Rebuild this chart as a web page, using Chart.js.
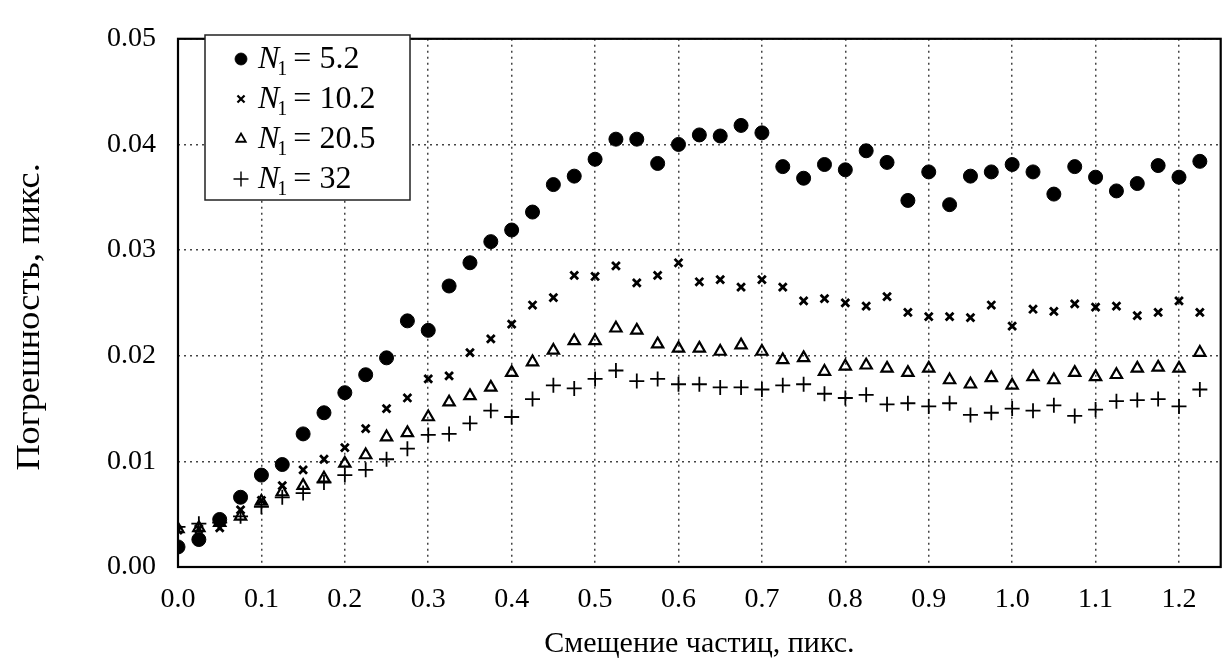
<!DOCTYPE html>
<html>
<head>
<meta charset="utf-8">
<script src="https://cdn.jsdelivr.net/npm/chart.js@4"></script>
<style>
  html, body { margin: 0; padding: 0; background: #fff; }
  #wrap { width: 1230px; height: 666px; }
</style>
</head>
<body>
<div id="wrap"><canvas id="errorChart" width="1230" height="666"></canvas></div>
<script>
// Смещение частиц (пикс.)
const xValues = [0.000, 0.025, 0.050, 0.075, 0.100, 0.125, 0.150, 0.175, 0.200, 0.225,
                 0.250, 0.275, 0.300, 0.325, 0.350, 0.375, 0.400, 0.425, 0.450, 0.475,
                 0.500, 0.525, 0.550, 0.575, 0.600, 0.625, 0.650, 0.675, 0.700, 0.725,
                 0.750, 0.775, 0.800, 0.825, 0.850, 0.875, 0.900, 0.925, 0.950, 0.975,
                 1.000, 1.025, 1.050, 1.075, 1.100, 1.125, 1.150, 1.175, 1.200, 1.225];

// Погрешность для разных N1
const errN5_2 = [0.0019, 0.0026, 0.0045, 0.0066, 0.0087, 0.0097, 0.0126, 0.0146, 0.0165, 0.0182,
                 0.0198, 0.0233, 0.0224, 0.0266, 0.0288, 0.0308, 0.0319, 0.0336, 0.0362, 0.0370,
                 0.0386, 0.0405, 0.0405, 0.0382, 0.0400, 0.0409, 0.0408, 0.0418, 0.0411, 0.0379,
                 0.0368, 0.0381, 0.0376, 0.0394, 0.0383, 0.0347, 0.0374, 0.0343, 0.0370, 0.0374,
                 0.0381, 0.0374, 0.0353, 0.0379, 0.0369, 0.0356, 0.0363, 0.0380, 0.0369, 0.0384];
const errN10_2 = [0.0035, 0.0036, 0.0037, 0.0054, 0.0063, 0.0077, 0.0092, 0.0102, 0.0113, 0.0131,
                  0.0150, 0.0160, 0.0178, 0.0181, 0.0203, 0.0216, 0.0230, 0.0248, 0.0255, 0.0276,
                  0.0275, 0.0285, 0.0269, 0.0276, 0.0288, 0.0270, 0.0272, 0.0265, 0.0272, 0.0265,
                  0.0252, 0.0254, 0.0250, 0.0247, 0.0256, 0.0241, 0.0237, 0.0237, 0.0236, 0.0248,
                  0.0228, 0.0244, 0.0242, 0.0249, 0.0246, 0.0247, 0.0238, 0.0241, 0.0252, 0.0241];
const errN20_5 = [0.0036, 0.0037, 0.0042, 0.0048, 0.0062, 0.0071, 0.0077, 0.0084, 0.0098, 0.0106,
                  0.0123, 0.0127, 0.0142, 0.0156, 0.0162, 0.0170, 0.0184, 0.0194, 0.0205, 0.0214,
                  0.0214, 0.0226, 0.0224, 0.0211, 0.0207, 0.0207, 0.0204, 0.0210, 0.0204, 0.0196,
                  0.0198, 0.0185, 0.0190, 0.0191, 0.0188, 0.0184, 0.0188, 0.0177, 0.0173, 0.0179,
                  0.0172, 0.0180, 0.0177, 0.0184, 0.0180, 0.0182, 0.0188, 0.0189, 0.0188, 0.0203];
const errN32 = [0.0038, 0.0041, 0.0042, 0.0048, 0.0057, 0.0066, 0.0070, 0.0080, 0.0087, 0.0092,
                0.0102, 0.0112, 0.0125, 0.0126, 0.0136, 0.0148, 0.0142, 0.0159, 0.0172, 0.0169,
                0.0178, 0.0186, 0.0176, 0.0178, 0.0173, 0.0173, 0.0170, 0.0170, 0.0168, 0.0172,
                0.0173, 0.0164, 0.0160, 0.0163, 0.0154, 0.0155, 0.0152, 0.0155, 0.0144, 0.0146,
                0.0150, 0.0148, 0.0153, 0.0143, 0.0149, 0.0157, 0.0158, 0.0159, 0.0152, 0.0168];

// Подписи серий и делений
const seriesValues = ['5.2', '10.2', '20.5', '32'];
const xTicks = [0.0, 0.1, 0.2, 0.3, 0.4, 0.5, 0.6, 0.7, 0.8, 0.9, 1.0, 1.1, 1.2];
const yTicks = [0.00, 0.01, 0.02, 0.03, 0.04, 0.05];
const yTitle = 'Погрешность, пикс.';

const FONT = '"Liberation Serif", "DejaVu Serif", serif';

function toPoints(arr) {
    return arr.map((y, i) => ({ x: xValues[i], y: y }));
}

// стили маркеров: точка, косой крест, треугольник, плюс
const markers = [
    { style: 'circle',   radius: 7,   border: 1,   fill: '#000', legendRadius: 6 },
    { style: 'crossRot', radius: 5.5, border: 2.8, fill: '#000', legendRadius: 5 },
    { style: 'triangle', radius: 6.5, border: 2.2, fill: 'rgba(0,0,0,0)', legendRadius: 5.5 },
    { style: 'cross',    radius: 7.5, border: 1.8, fill: '#000', legendRadius: 7.5 }
];
const seriesData = [errN5_2, errN10_2, errN20_5, errN32];

const datasets = seriesData.map((arr, k) => ({
    label: 'N1 = ' + seriesValues[k],
    data: toPoints(arr),
    showLine: false,
    pointStyle: markers[k].style,
    pointRadius: markers[k].radius,
    pointHoverRadius: markers[k].radius,
    pointBorderWidth: markers[k].border,
    pointBorderColor: '#000',
    pointBackgroundColor: markers[k].fill
}));

// Рамка вокруг области графика
const frameBorder = {
    id: 'frameBorder',
    afterDatasetsDraw(chart) {
        const { ctx, chartArea: a } = chart;
        ctx.save();
        ctx.strokeStyle = '#000';
        ctx.lineWidth = 2.2;
        ctx.strokeRect(a.left, a.top, a.right - a.left, a.bottom - a.top);
        ctx.restore();
    }
};

// Подпись оси Y (растянута вдоль оси, как в оригинале)
const yTitlePlugin = {
    id: 'yTitlePlugin',
    afterDraw(chart) {
        const { ctx, chartArea: a } = chart;
        ctx.save();
        ctx.translate(30, a.top + (a.bottom - a.top) / 2 + 14);
        ctx.rotate(-Math.PI / 2);
        ctx.scale(1.1, 1);
        ctx.font = '33px ' + FONT;
        ctx.fillStyle = '#000';
        ctx.textAlign = 'center';
        ctx.textBaseline = 'middle';
        ctx.fillText(yTitle, 0, 0);
        ctx.restore();
    }
};

// Легенда внутри графика: курсивная N с нижним индексом 1
const insetLegend = {
    id: 'insetLegend',
    afterDraw(chart) {
        const { ctx } = chart;
        const box = { x: 205, y: 35, w: 205, h: 165 };
        ctx.save();
        ctx.fillStyle = '#fff';
        ctx.fillRect(box.x, box.y, box.w, box.h);
        ctx.strokeStyle = '#222';
        ctx.lineWidth = 1.5;
        ctx.strokeRect(box.x, box.y, box.w, box.h);
        ctx.textBaseline = 'alphabetic';
        seriesValues.forEach((val, k) => {
            const base = 68 + k * 40;
            const m = markers[k];
            ctx.strokeStyle = '#000';
            ctx.fillStyle = m.fill;
            ctx.lineWidth = m.border * 0.8;
            Chart.helpers.drawPoint(ctx, { pointStyle: m.style, radius: m.legendRadius, borderWidth: m.border }, 241, base - 9);
            let x = 258;
            ctx.fillStyle = '#000';
            ctx.font = 'italic 32px ' + FONT;
            ctx.fillText('N', x, base);
            x += ctx.measureText('N').width - 2;
            ctx.font = '20px ' + FONT;
            ctx.fillText('1', x, base + 7);
            x += ctx.measureText('1').width + 6;
            ctx.font = '32px ' + FONT;
            ctx.fillText('=', x, base);
            x += ctx.measureText('=').width + 8;
            ctx.fillText(val, x, base);
        });
        ctx.restore();
    }
};

const ctxError = document.getElementById('errorChart').getContext('2d');

const errorChart = new Chart(ctxError, {
    type: 'scatter',
    data: { datasets: datasets },
    options: {
        responsive: false,
        animation: false,
        events: [],
        layout: { padding: { top: 23, right: 8, left: 0, bottom: 0 } },
        plugins: {
            legend: { display: false },
            tooltip: { enabled: false }
        },
        scales: {
            x: {
                type: 'linear',
                min: 0,
                max: 1.25,
                afterBuildTicks: axis => { axis.ticks = xTicks.map(v => ({ value: v })); },
                afterFit: axis => { axis.height = 99; },
                border: { display: false, dash: [2, 4] },
                grid: {
                    color: '#444',
                    lineWidth: 1.5,
                    drawTicks: false
                },
                ticks: {
                    color: '#000',
                    padding: 16,
                    maxRotation: 0,
                    font: { family: FONT, size: 28 },
                    callback: v => v.toFixed(1)
                },
                title: {
                    display: true,
                    text: 'Смещение частиц, пикс.',
                    color: '#000',
                    padding: { top: 2 },
                    font: { family: FONT, size: 30 }
                }
            },
            y: {
                type: 'linear',
                min: 0,
                max: 0.05,
                afterBuildTicks: axis => { axis.ticks = yTicks.map(v => ({ value: v })); },
                afterFit: axis => { axis.width = 178; },
                border: { display: false, dash: [2, 4] },
                grid: {
                    color: '#444',
                    lineWidth: 1.5,
                    drawTicks: false
                },
                ticks: {
                    color: '#000',
                    padding: 22,
                    font: { family: FONT, size: 28 },
                    callback: v => v.toFixed(2)
                },
                title: { display: false }
            }
        }
    },
    plugins: [frameBorder, yTitlePlugin, insetLegend]
});
</script>
</body>
</html>
